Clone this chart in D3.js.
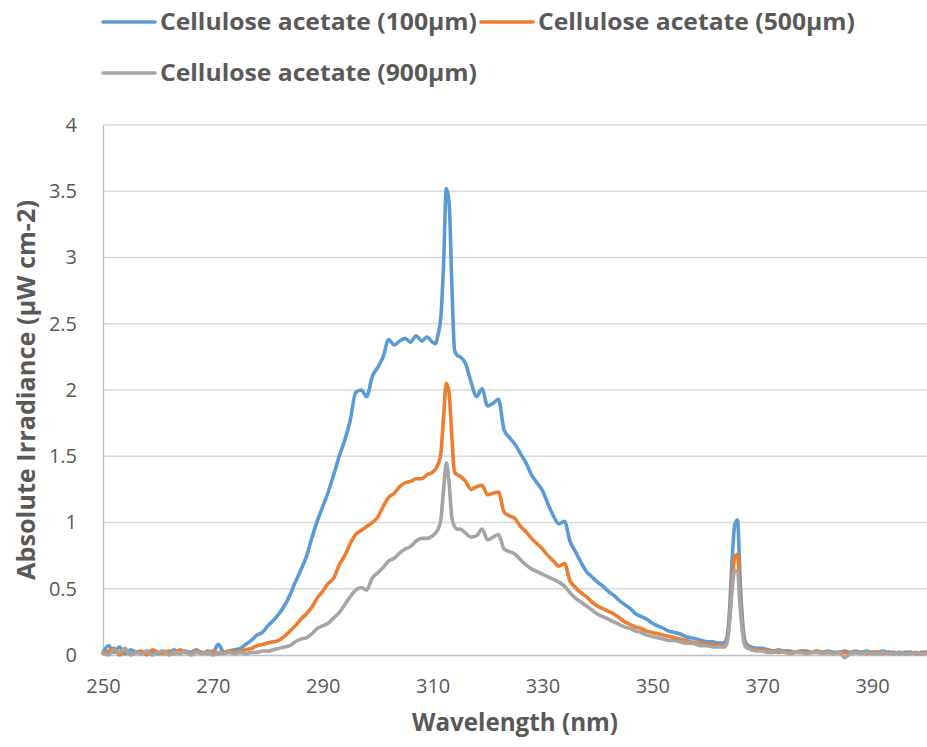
<!DOCTYPE html>
<html><head><meta charset="utf-8">
<script src="https://cdn.jsdelivr.net/npm/d3@7"></script>
<style>
html,body{margin:0;padding:0;background:#fff;}
svg{display:block;font-family:"Open Sans",sans-serif;}
</style></head>
<body>
<svg id="chart" width="927" height="747"></svg>
<script>
// ---- data ----
const seriesNames = ["Cellulose acetate (100µm)", "Cellulose acetate (500µm)", "Cellulose acetate (900µm)"];
const seriesColors = ["#5B9BD5", "#ED7D31", "#A5A5A5"];
const xTicks = [250, 270, 290, 310, 330, 350, 370, 390];
const yTicks = [0, 0.5, 1, 1.5, 2, 2.5, 3, 3.5, 4];

const wavelength = [
250,251,252,253,254,255,256,257,258,259,
260,261,262,263,264,265,266,267,268,269,
270,271,272,273,274,275,276,277,278,279,
280,281,282,283,284,285,286,287,288,289,
290,291,292,293,294,295,296,297,298,299,
300,301,302,303,304,305,306,307,308,309,
310,310.5,311,311.5,312,312.5,313,313.5,314,314.5,315,
316,317,318,319,320,321,322,323,324,325,
326,327,328,329,330,331,332,333,334,335,
336,337,338,339,340,341,342,343,344,345,
346,347,348,349,350,351,352,353,354,355,
356,357,358,359,360,361,362,363,363.5,364,364.5,365,365.5,366,366.5,367,
368,369,370,371,372,373,374,375,376,377,
378,379,380,381,382,383,384,385,386,387,
388,389,390,391,392,393,394,395,396,397,
398,399,400];

const ca100 = [
0.02,0.07,0.02,0.06,0.01,0.04,0.02,0.01,0.03,0.02,
0.01,0.03,0.02,0.04,0.01,0.03,0.02,0.04,0.01,0.03,
0.02,0.08,0.02,0.03,0.04,0.05,0.08,0.11,0.15,0.17,
0.22,0.26,0.31,0.37,0.45,0.55,0.64,0.74,0.88,1.01,
1.12,1.23,1.36,1.50,1.62,1.77,1.98,2.00,1.95,2.10,
2.17,2.25,2.38,2.34,2.37,2.39,2.36,2.41,2.37,2.40,
2.36,2.35,2.42,2.55,2.95,3.52,3.42,2.80,2.30,2.26,2.25,
2.20,2.06,1.95,2.01,1.88,1.90,1.93,1.70,1.64,1.59,
1.52,1.45,1.36,1.30,1.24,1.14,1.05,0.99,1.01,0.86,
0.78,0.70,0.63,0.59,0.55,0.52,0.48,0.45,0.41,0.38,
0.35,0.31,0.29,0.27,0.24,0.22,0.20,0.18,0.17,0.16,
0.14,0.13,0.12,0.11,0.10,0.10,0.09,0.09,0.12,0.30,0.70,0.98,1.02,0.55,0.22,0.09,
0.06,0.05,0.05,0.04,0.03,0.04,0.03,0.03,0.02,0.03,
0.03,0.02,0.03,0.02,0.03,0.02,0.02,0.03,0.02,0.03,
0.02,0.03,0.02,0.02,0.03,0.02,0.02,0.01,0.02,0.02,
0.01,0.02,0.02];

const ca500 = [
0.01,0.03,0.05,0.00,0.03,0.01,0.02,0.03,0.00,0.04,
0.02,0.01,0.03,0.01,0.04,0.02,0.01,0.03,0.02,0.01,
0.03,0.01,0.02,0.03,0.02,0.03,0.04,0.05,0.07,0.08,
0.09,0.10,0.11,0.14,0.18,0.22,0.27,0.31,0.36,0.43,
0.48,0.54,0.58,0.68,0.75,0.84,0.91,0.94,0.97,1.00,
1.04,1.12,1.19,1.22,1.27,1.30,1.31,1.33,1.33,1.36,
1.38,1.40,1.44,1.52,1.80,2.05,1.98,1.65,1.38,1.36,1.35,
1.31,1.25,1.27,1.28,1.21,1.22,1.23,1.08,1.05,1.03,
0.97,0.93,0.88,0.84,0.80,0.75,0.71,0.67,0.69,0.56,
0.51,0.47,0.44,0.40,0.37,0.35,0.33,0.31,0.28,0.25,
0.23,0.21,0.20,0.18,0.17,0.16,0.15,0.14,0.13,0.12,
0.11,0.10,0.09,0.09,0.08,0.08,0.07,0.07,0.09,0.25,0.55,0.74,0.76,0.42,0.17,0.07,
0.05,0.04,0.04,0.03,0.03,0.02,0.03,0.02,0.02,0.03,
0.02,0.02,0.03,0.02,0.02,0.01,0.02,0.02,0.01,0.02,
0.02,0.01,0.02,0.02,0.01,0.02,0.01,0.02,0.01,0.02,
0.01,0.01,0.02];

const ca900 = [
0.02,0.00,0.04,0.02,0.05,0.00,0.02,0.01,0.03,0.00,
0.02,0.03,0.00,0.02,0.01,0.03,0.00,0.02,0.01,0.02,
0.00,0.02,0.01,0.02,0.01,0.02,0.01,0.02,0.02,0.03,
0.03,0.04,0.05,0.06,0.07,0.10,0.12,0.13,0.16,0.20,
0.22,0.24,0.28,0.32,0.38,0.44,0.49,0.51,0.49,0.58,
0.62,0.66,0.71,0.73,0.77,0.80,0.82,0.86,0.88,0.88,
0.90,0.92,0.95,1.02,1.25,1.45,1.30,1.04,0.97,0.95,0.95,
0.92,0.89,0.90,0.95,0.87,0.89,0.91,0.80,0.78,0.76,
0.72,0.68,0.65,0.63,0.61,0.59,0.57,0.55,0.52,0.47,
0.43,0.40,0.37,0.34,0.31,0.29,0.27,0.25,0.23,0.21,
0.20,0.18,0.17,0.15,0.14,0.13,0.12,0.11,0.11,0.10,
0.09,0.09,0.08,0.07,0.07,0.06,0.06,0.06,0.08,0.22,0.48,0.64,0.63,0.35,0.14,0.06,
0.04,0.03,0.03,0.02,0.02,0.03,0.02,0.01,0.02,0.02,
0.01,0.02,0.02,0.01,0.02,0.01,0.02,-0.02,0.01,0.02,
0.01,0.02,0.01,0.01,0.02,0.01,0.01,0.02,0.01,0.01,
0.02,0.01,0.01];

const seriesValues = [ca100, ca500, ca900];

// ---- layout ----
const svg = d3.select("#chart");
const plotL = 103, plotR = 927, plotT = 125, plotB = 655;
const x = d3.scaleLinear().domain([250, 400]).range([plotL, plotR]);
const y = d3.scaleLinear().domain([0, 4]).range([plotB, plotT]);
const textColor = "#595959";

// gridlines
svg.append("g").selectAll("line").data(yTicks.filter(d => d > 0)).join("line")
  .attr("x1", plotL).attr("x2", plotR)
  .attr("y1", d => y(d)).attr("y2", d => y(d))
  .attr("stroke", "#D9D9D9").attr("stroke-width", 1.3);

// y axis
const yAxis = svg.append("g").attr("transform", `translate(${plotL},0)`)
  .call(d3.axisLeft(y).tickValues(yTicks).tickSize(0).tickPadding(26).tickFormat(d => String(d)));
yAxis.select(".domain").attr("stroke", "#BFBFBF").attr("stroke-width", 1.3);
yAxis.selectAll("text").attr("fill", textColor).style("font-size", "20px").style("font-family", "Open Sans");

// x axis
const xAxis = svg.append("g").attr("transform", `translate(0,${plotB})`)
  .call(d3.axisBottom(x).tickValues(xTicks).tickSize(0).tickPadding(24).tickFormat(d => String(d)));
xAxis.select(".domain").attr("stroke", "#BFBFBF").attr("stroke-width", 1.3);
xAxis.selectAll("text").attr("fill", textColor).style("font-size", "20px").style("font-family", "Open Sans");

// lines
const line = d3.line().x((d, i) => x(wavelength[i])).y(d => y(d)).curve(d3.curveMonotoneX);
svg.append("g").selectAll("path").data(seriesValues).join("path")
  .attr("d", d => line(d))
  .attr("fill", "none")
  .attr("stroke", (d, i) => seriesColors[i])
  .attr("stroke-width", 3.6)
  .attr("stroke-linejoin", "round")
  .attr("stroke-linecap", "round");

// axis titles
svg.append("text")
  .attr("x", (plotL + plotR) / 2).attr("y", 731)
  .attr("text-anchor", "middle")
  .attr("fill", textColor).style("font-size", "25px").style("font-weight", "bold")
  .attr("textLength", 206).attr("lengthAdjust", "spacingAndGlyphs")
  .text("Wavelength (nm)");

svg.append("text")
  .attr("transform", `translate(35,${(plotT + plotB) / 2}) rotate(-90)`)
  .attr("text-anchor", "middle")
  .attr("fill", textColor).style("font-size", "25px").style("font-weight", "bold")
  .attr("textLength", 380).attr("lengthAdjust", "spacingAndGlyphs")
  .text("Absolute Irradiance (µW cm-2)");

// legend
const legendPos = [[103, 22], [481, 22], [103, 73]];
const lg = svg.append("g").selectAll("g").data(seriesNames).join("g")
  .attr("transform", (d, i) => `translate(${legendPos[i][0]},${legendPos[i][1]})`);
lg.append("line").attr("x1", 0).attr("x2", 52).attr("y1", 0).attr("y2", 0)
  .attr("stroke", (d, i) => seriesColors[i]).attr("stroke-width", 3.6).attr("stroke-linecap", "round");
lg.append("text").attr("x", 57).attr("y", 8)
  .attr("fill", textColor).style("font-size", "23px").style("font-weight", "bold")
  .attr("textLength", 317).attr("lengthAdjust", "spacingAndGlyphs")
  .text(d => d);
</script>
</body></html>
